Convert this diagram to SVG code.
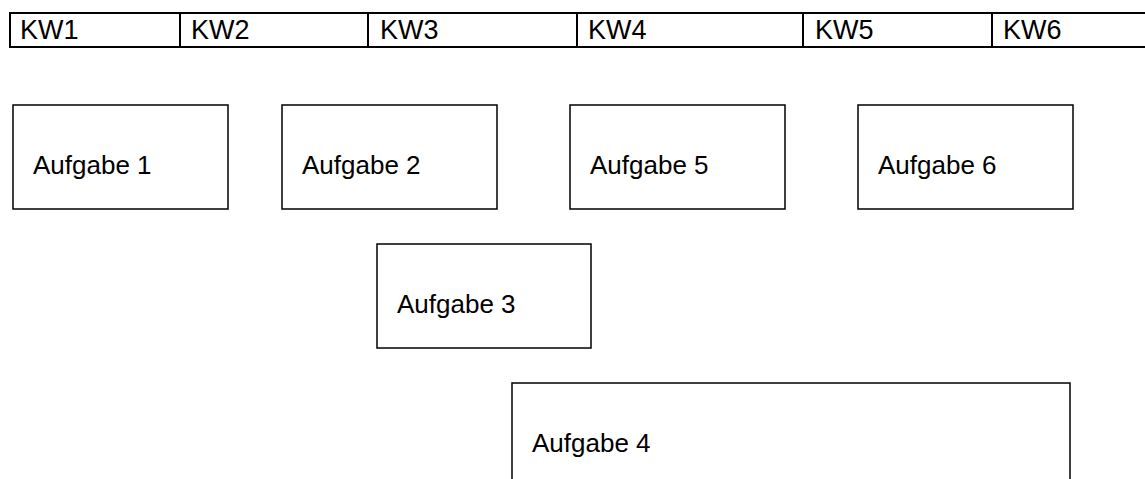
<svg xmlns="http://www.w3.org/2000/svg" width="1145" height="479" viewBox="0 0 1145 479">
<style>
.t{font-family:"Liberation Sans",Arial,sans-serif;font-size:26px;fill:#000}
.k{font-size:27px}
.b{fill:#fff;stroke:#000;stroke-width:1.5}
.g{stroke:#000;stroke-width:2;fill:none}
</style>
<rect width="1145" height="479" fill="#fff"/>
<g id="header">
<path class="g" d="M9 13H1145M9 47H1145M10 13V47M180 13V47M368 13V47M577 13V47M803 13V47M992 13V47"/>
<text class="t k" x="20" y="39">KW1</text>
<text class="t k" x="191" y="39">KW2</text>
<text class="t k" x="380" y="39">KW3</text>
<text class="t k" x="588" y="39">KW4</text>
<text class="t k" x="815" y="39">KW5</text>
<text class="t k" x="1003" y="39">KW6</text>
</g>
<g id="aufgabe1"><rect class="b" x="13" y="105" width="215" height="104"/><text class="t" x="33" y="174">Aufgabe 1</text></g>
<g id="aufgabe2"><rect class="b" x="282" y="105" width="215" height="104"/><text class="t" x="302" y="174">Aufgabe 2</text></g>
<g id="aufgabe5"><rect class="b" x="570" y="105" width="215" height="104"/><text class="t" x="590" y="174">Aufgabe 5</text></g>
<g id="aufgabe6"><rect class="b" x="858" y="105" width="215" height="104"/><text class="t" x="878" y="174">Aufgabe 6</text></g>
<g id="aufgabe3"><rect class="b" x="377" y="244" width="214" height="104"/><text class="t" x="397" y="313">Aufgabe 3</text></g>
<g id="aufgabe4"><path class="g" style="stroke-width:1.5" d="M512 479V383H1070V479"/><text class="t" x="532" y="452">Aufgabe 4</text></g>
<g id="connectors"></g>
</svg>
